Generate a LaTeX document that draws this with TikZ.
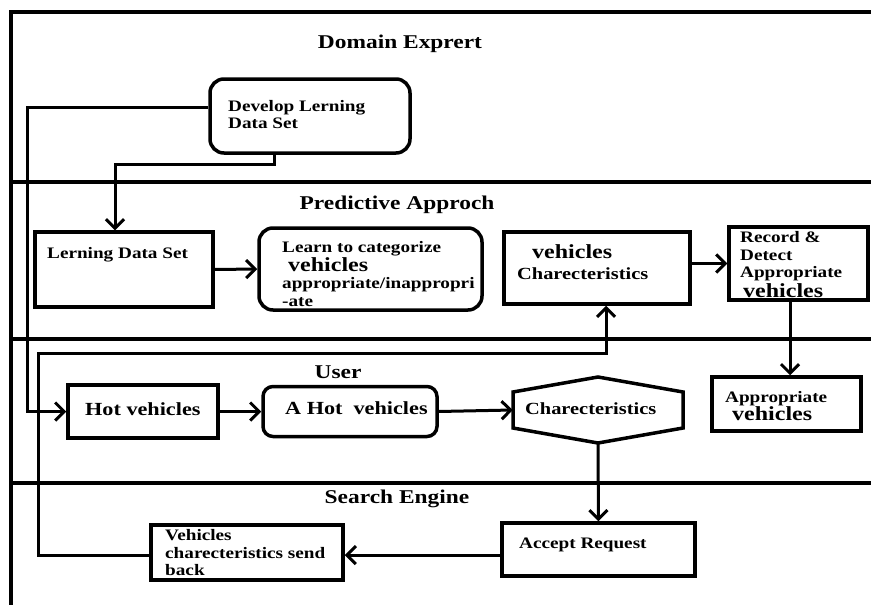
\documentclass[tikz,border=0pt]{standalone}
\usepackage{fontspec}
\setmainfont{Liberation Serif}[FakeStretch=1.2]
\usetikzlibrary{arrows.meta}
\begin{document}
\begin{tikzpicture}[x=1pt,y=-1pt,
  box/.style={draw,line width=3.5pt,inner sep=0pt},
  rbox/.style={box,rounded corners=14pt},
  conn/.style={line width=3pt},
  arr/.style={conn,-{Straight Barb[length=9pt,width=18pt]}},
  lane/.style={line width=3.2pt},
  frameline/.style={line width=4pt},
  ttl/.style={font=\bfseries\fontsize{19.5}{22}\selectfont,inner sep=0pt,anchor=base},
  txt/.style={font=\bfseries\fontsize{16}{18}\selectfont,inner sep=0pt,anchor=base west},
  txtm/.style={font=\bfseries\fontsize{17}{19}\selectfont,inner sep=0pt,anchor=base west},
  txth/.style={font=\bfseries\fontsize{18.5}{20}\selectfont,inner sep=0pt,anchor=base west},
  txtv/.style={font=\bfseries\fontsize{20}{22}\selectfont,inner sep=0pt,anchor=base west},
]
\useasboundingbox (0,0) rectangle (871,605);

% frame and lanes
\draw[frameline] (871,12) -- (11,12) -- (11,605);
\draw[lane] (11,182) -- (871,182);
\draw[lane] (11,339) -- (871,339);
\draw[lane] (11,483) -- (871,483);

% lane titles
\node[ttl] (tDom) at (400,48) {Domain Exprert};
\node[ttl] (tPre) at (397,209) {Predictive Approch};
\node[ttl] (tUse) at (338,378) {User};
\node[ttl] (tSea) at (397,503) {Search Engine};

% boxes
\node[rbox,minimum width=200pt,minimum height=74pt] (dev) at (310,116) {};
\node[box,minimum width=178pt,minimum height=75pt] (ld) at (124,269.5) {};
\node[rbox,minimum width=223pt,minimum height=82pt] (learn) at (370.5,269) {};
\node[box,minimum width=186pt,minimum height=72pt] (vc) at (597,268) {};
\node[box,minimum width=139pt,minimum height=73pt] (rec) at (798.5,263.5) {};
\node[box,minimum width=149pt,minimum height=54pt] (app) at (786.5,404) {};
\node[box,minimum width=150pt,minimum height=53pt] (hot) at (143,411.5) {};
\node[rbox,rounded corners=10pt,minimum width=174pt,minimum height=50pt] (ahot) at (350,411.5) {};
\node[inner sep=0pt,minimum width=170pt,minimum height=66pt] (hex) at (598,410) {};
\draw[line width=3.5pt,line join=miter] (513,392) -- (598,377) -- (683,392) -- (683,428) -- (598,443) -- (513,428) -- cycle;
\node[box,minimum width=193pt,minimum height=53pt] (acc) at (598.5,549.5) {};
\node[box,minimum width=192pt,minimum height=55pt] (sb) at (247,552.5) {};

% texts
\node[txt] (x1) at (228,111) {Develop Lerning};
\node[txt] (x2) at (228,128) {Data Set};
\node[txt] (x3) at (47,258) {Lerning Data Set};
\node[txt] (x4) at (282,252) {Learn to categorize};
\node[txtv] (x5) at (288,271) {vehicles};
\node[txt] (x6) at (282,288) {appropriate/inappropri};
\node[txt] (x7) at (282,306) {-ate};
\node[txtv] (x8) at (532,258) {vehicles};
\node[txtm] (x9) at (517,279) {Charecteristics};
\node[txt] (x10) at (740,242) {Record \&};
\node[txt] (x11) at (740,260) {Detect};
\node[txt] (x12) at (740,277) {Appropriate};
\node[txtv] (x13) at (743,297) {vehicles};
\node[txt] (x14) at (725,402) {Appropriate};
\node[txtv] (x15) at (732,420) {vehicles};
\node[txth] (x16) at (85,415) {Hot vehicles};
\node[txth] (x17) at (285,414) {A Hot\ \ vehicles};
\node[txtm] (x18) at (525,414) {Charecteristics};
\node[txt] (x19) at (519,548) {Accept Request};
\node[txt] (x20) at (165,540) {Vehicles};
\node[txt] (x21) at (165,558) {charecteristics send};
\node[txt] (x22) at (165,575) {back};

% helper coordinates
\coordinate (j1) at (27,107);
\coordinate (j2) at (274,164);
\coordinate (j3) at (115,164);
\coordinate (j4) at (790,0);
\coordinate (j5) at (0,555);
\coordinate (j6) at (38,555);
\coordinate (j7) at (38,353);
\coordinate (j8) at (606,353);

% connectors
\draw[arr] (j1 -| dev.west) -- (j1) |- (hot.west);
\draw[arr] (j2 |- dev.south) -- (j2) -- (j3) -- (j3 |- ld.north);
\draw[arr] (ld.east) -- (learn.west);
\draw[arr] (vc.east |- rec.west) -- (rec.west);
\draw[arr] (j4 |- rec.south) -- (j4 |- app.north);
\draw[arr] (hot.east) -- (ahot.west);
\draw[arr] (ahot.east) -- (hex.west);
\draw[arr] (hex.south) -- (acc.north);
\draw[arr] (j5 -| acc.west) -- (j5 -| sb.east);
\draw[arr] (j6 -| sb.west) -- (j6) -- (j7) -- (j8) -- (j8 |- vc.south);
\end{tikzpicture}
\end{document}
